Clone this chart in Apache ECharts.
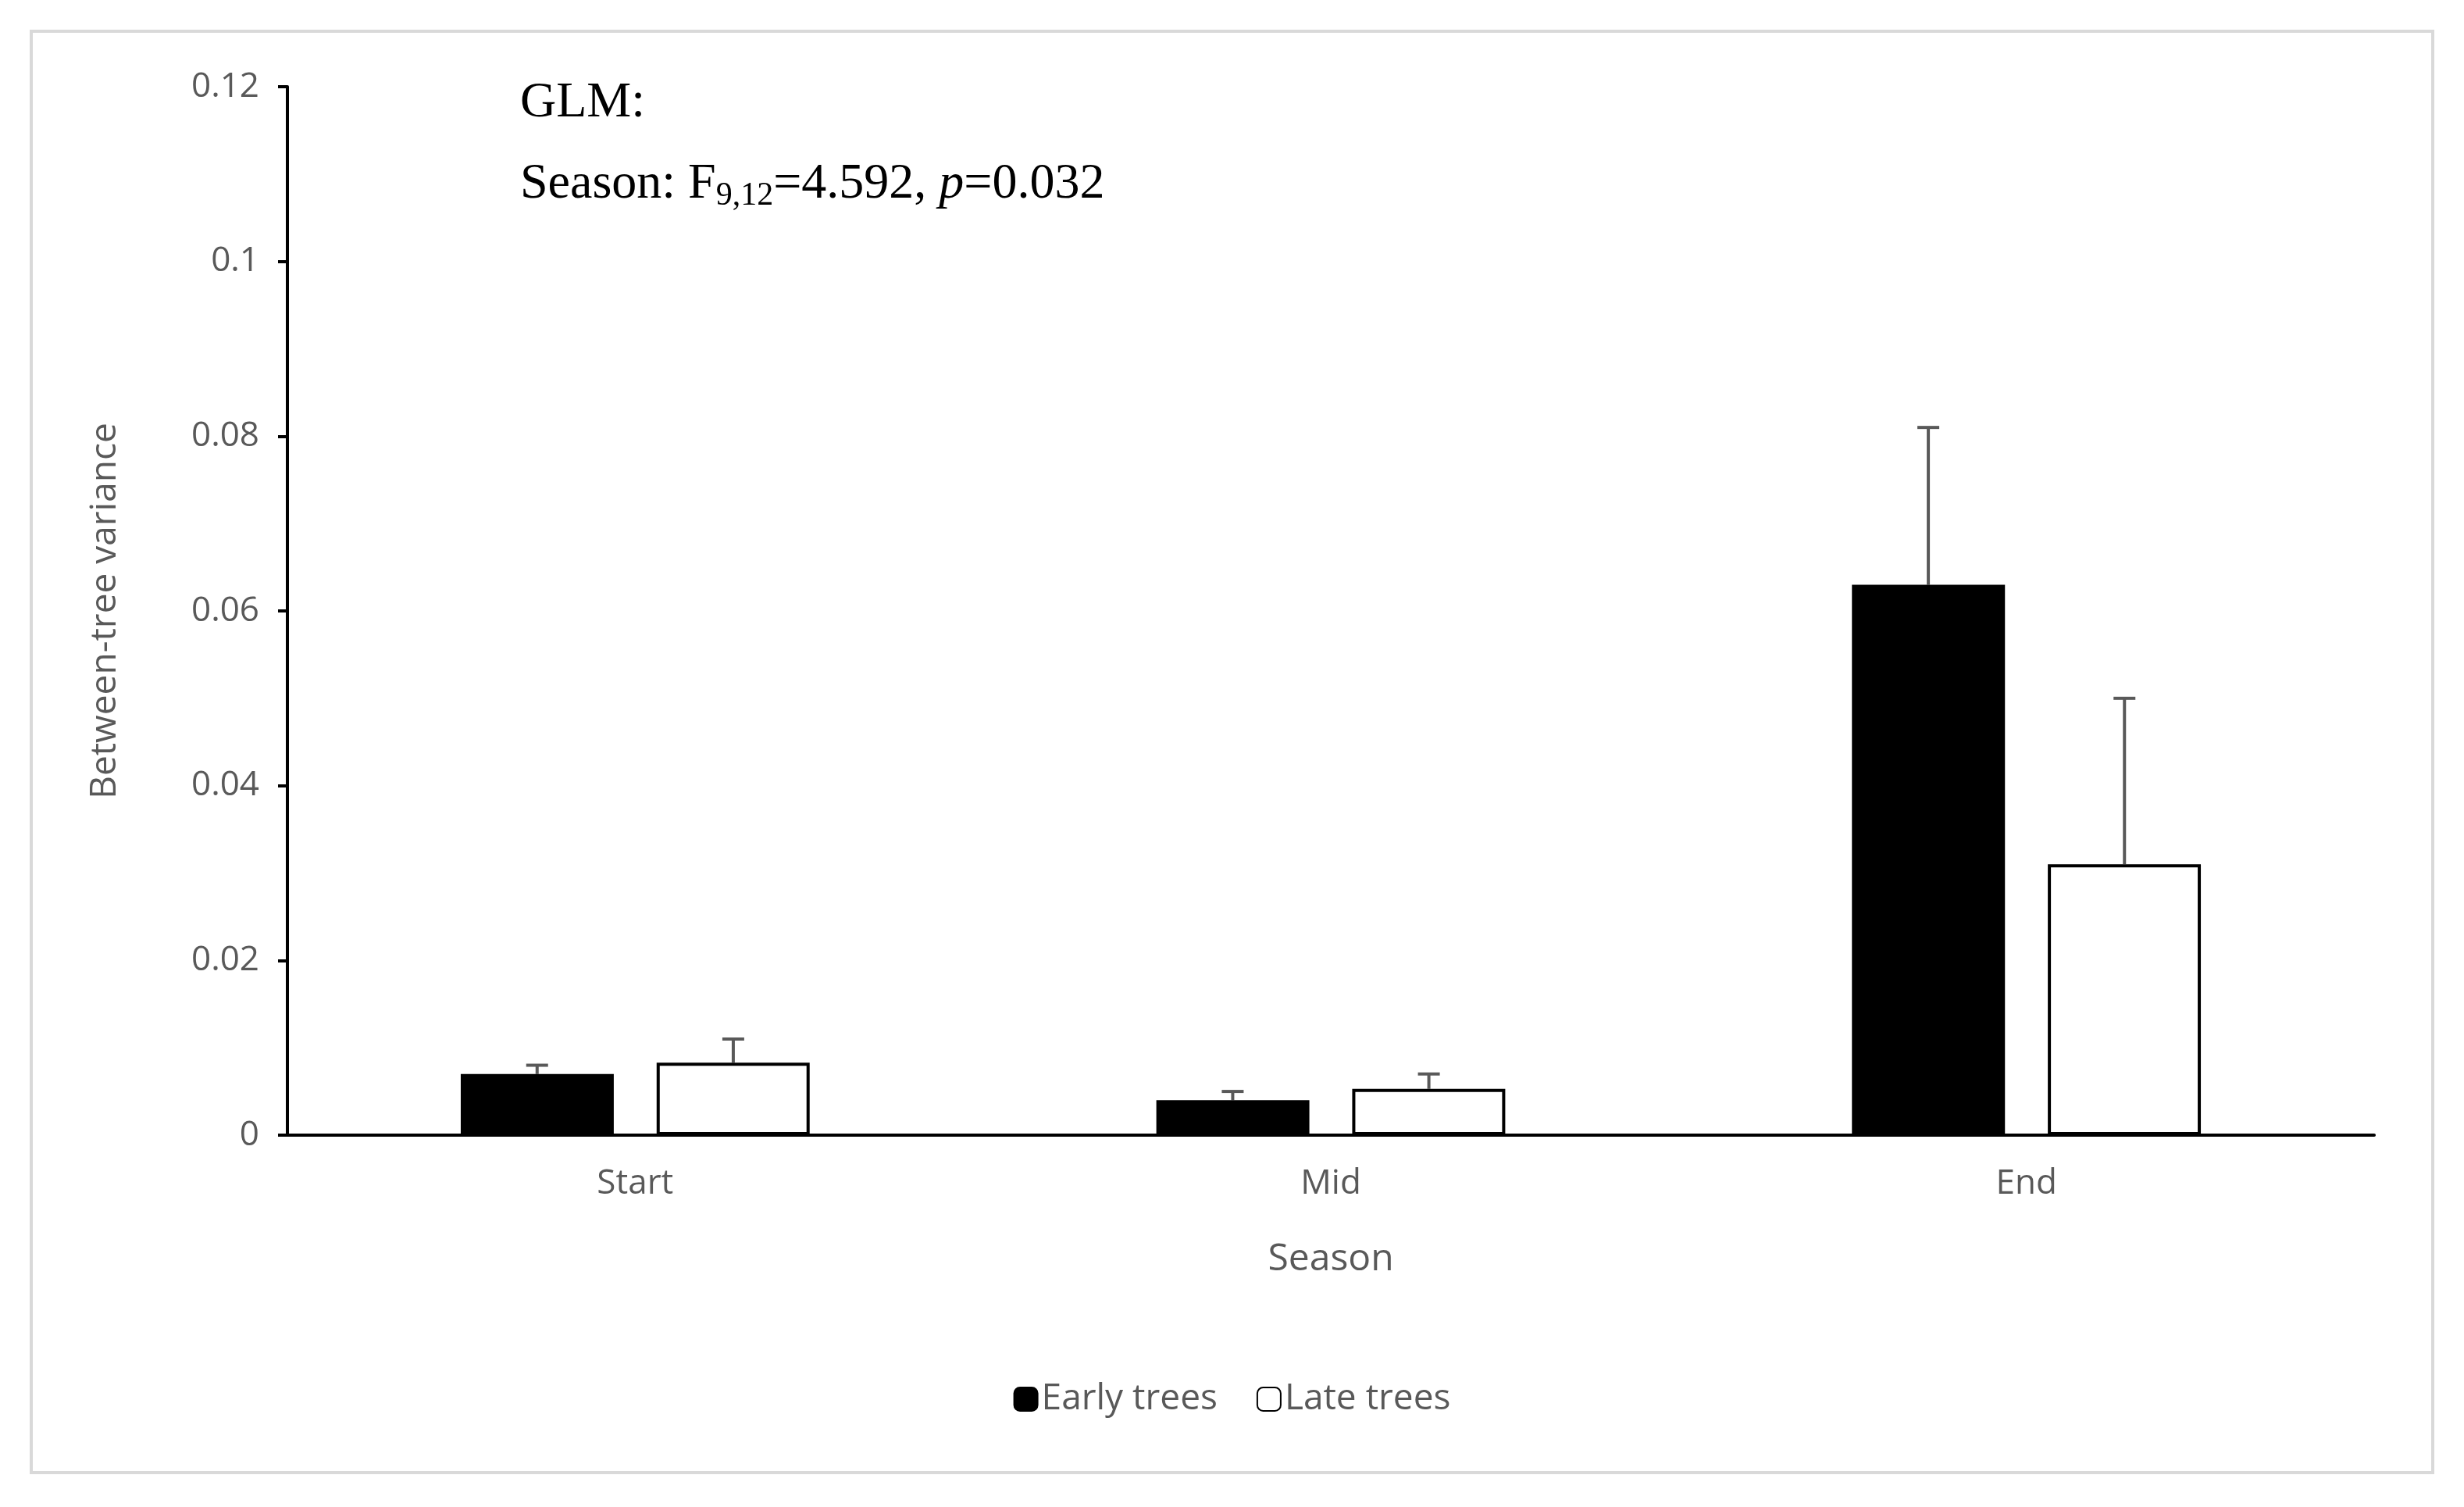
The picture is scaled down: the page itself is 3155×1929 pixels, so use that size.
<!DOCTYPE html>
<html>
<head>
<meta charset="utf-8">
<script src="https://cdn.jsdelivr.net/npm/echarts@6/dist/echarts.min.js"></script>
<style>
html,body{margin:0;padding:0;background:#fff;}
#chart{width:3155px;height:1929px;}
</style>
</head>
<body>
<div id="chart"></div>
<script>
// 数据
var categories = ['Start', 'Mid', 'End'];
var earlyValues = [0.007, 0.004, 0.063];
var earlyUpper = [0.008, 0.005, 0.081];
var lateValues = [0.0083, 0.0053, 0.031];
var lateUpper = [0.011, 0.007, 0.050];
var yTicks = [0, 0.02, 0.04, 0.06, 0.08, 0.1, 0.12];

var chart = echarts.init(document.getElementById('chart'));

// 误差线（只画上半部分）
var errorSeries = function(upper, values, offset) {
    return {
        type: 'custom',
        silent: true,
        z: 1,
        data: upper.map(function(u, i) { return [i, values[i], u]; }),
        renderItem: function(params, api) {
            var base = api.coord([api.value(0), api.value(1)]);
            var top = api.coord([api.value(0), api.value(2)]);
            var band = api.size([1, 0])[0];
            var x = base[0] + offset * band;
            var cap = 14;
            var st = { stroke: '#595959', lineWidth: 4 };
            return {
                type: 'group',
                children: [
                    { type: 'line', shape: { x1: x, y1: base[1], x2: x, y2: top[1] }, style: st },
                    { type: 'line', shape: { x1: x - cap, y1: top[1], x2: x + cap, y2: top[1] }, style: st }
                ]
            };
        }
    };
};

chart.setOption({
    animation: false,
    backgroundColor: '#fff',
    grid: { left: 368, right: 115, top: 111, bottom: 476 },
    legend: {
        data: ['Early trees', 'Late trees'],
        bottom: 110,
        left: 'center',
        itemWidth: 30, itemHeight: 30, itemGap: 50,
        textStyle: { fontSize: 46, color: '#595959', fontFamily: 'Open Sans' }
    },
    xAxis: {
        type: 'category',
        data: categories,
        name: 'Season',
        nameLocation: 'middle',
        nameGap: 135,
        nameTextStyle: { fontSize: 48, color: '#595959', fontFamily: 'Open Sans' },
        axisLine: { lineStyle: { color: '#000', width: 4 } },
        axisTick: { show: false },
        axisLabel: { fontSize: 44, color: '#595959', margin: 40, fontFamily: 'Open Sans' }
    },
    yAxis: {
        type: 'value',
        min: 0, max: 0.12, interval: 0.02,
        name: 'Between-tree variance',
        nameLocation: 'middle',
        nameGap: 210,
        nameTextStyle: { fontSize: 46, color: '#595959', fontFamily: 'Open Sans' },
        axisLine: { show: true, lineStyle: { color: '#000', width: 4 } },
        axisTick: { show: true, length: 12, lineStyle: { color: '#000', width: 4 } },
        splitLine: { show: false },
        axisLabel: {
            fontSize: 44, color: '#595959', margin: 36, fontFamily: 'Open Sans',
            formatter: function(v) { return yTicks.indexOf(v) >= 0 ? String(+v.toFixed(2)) : ''; }
        }
    },
    series: [
        {
            name: 'Early trees', type: 'bar', data: earlyValues,
            barWidth: '22%', barGap: '28%', z: 2,
            itemStyle: { color: '#000', borderColor: '#000', borderWidth: 4 }
        },
        {
            name: 'Late trees', type: 'bar', data: lateValues,
            barWidth: '22%', z: 2,
            itemStyle: { color: '#fff', borderColor: '#000', borderWidth: 4 }
        },
        errorSeries(earlyUpper, earlyValues, -0.141),
        errorSeries(lateUpper, lateValues, 0.141)
    ],
    graphic: [
        {
            type: 'rect', silent: true, z: -1,
            shape: { x: 40, y: 40, width: 3075, height: 1845 },
            style: { fill: 'none', stroke: '#d9d9d9', lineWidth: 4 }
        },
        {
            type: 'text', left: 666, top: 100,
            style: { text: 'GLM:', fontSize: 64, fill: '#000', fontFamily: 'Liberation Serif' }
        },
        {
            type: 'text', left: 666, top: 204,
            style: {
                text: '{n|Season: F}{s|9,12}{n|=4.592, }{i|p}{n|=0.032}',
                rich: {
                    n: { fontSize: 64, fill: '#000', fontFamily: 'Liberation Serif' },
                    s: { fontSize: 42, fill: '#000', fontFamily: 'Liberation Serif', padding: [30, 0, 0, 0] },
                    i: { fontSize: 64, fill: '#000', fontFamily: 'Liberation Serif', fontStyle: 'italic' }
                }
            }
        }
    ]
});
</script>
</body>
</html>
